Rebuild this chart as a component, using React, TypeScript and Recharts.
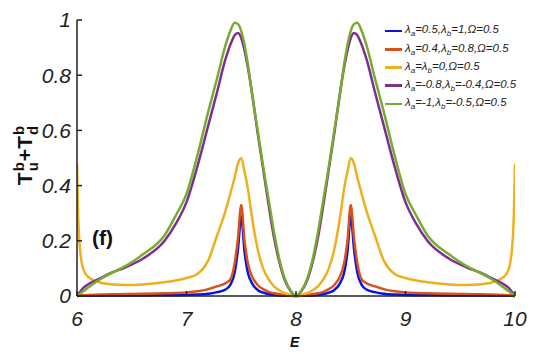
import React from 'react';
import { LineChart, Line, XAxis, YAxis } from 'recharts';

// energy grid (left half 6..8, right half 8..10)
const E_LEFT = [6.0, 6.01, 6.03, 6.06, 6.1, 6.2, 6.3, 6.45, 6.6, 6.8, 6.9, 7.0, 7.1, 7.2, 7.28, 7.35, 7.4, 7.44, 7.47, 7.5, 7.53, 7.56, 7.6, 7.65, 7.7, 7.75, 7.8, 7.85, 7.9, 7.95, 8.0];
const E_RIGHT = [8.05, 8.1, 8.15, 8.2, 8.25, 8.3, 8.35, 8.4, 8.44, 8.47, 8.5, 8.53, 8.56, 8.6, 8.65, 8.72, 8.8, 8.9, 9.0, 9.1, 9.2, 9.4, 9.55, 9.7, 9.8, 9.9, 9.94, 9.97, 9.99, 10.0];

const blueVals = [
  0, 0, 0.001, 0.001, 0.001, 0.001, 0.002, 0.002, 0.002, 0.003, 0.003, 0.004, 0.005, 0.008, 0.014,
  0.022, 0.04, 0.085, 0.17, 0.29, 0.16, 0.085, 0.045, 0.022, 0.012, 0.007, 0.004, 0.002, 0.001, 0.001, 0,
  0.001, 0.001, 0.002, 0.004, 0.007, 0.012, 0.022, 0.045, 0.085, 0.16, 0.29, 0.17, 0.085, 0.04, 0.022,
  0.014, 0.008, 0.005, 0.004, 0.003, 0.003, 0.002, 0.002, 0.002, 0.001, 0.001, 0.001, 0.001, 0, 0,
];
const redVals = [
  0, 0.001, 0.002, 0.003, 0.004, 0.005, 0.006, 0.007, 0.008, 0.01, 0.011, 0.013, 0.017, 0.025, 0.035,
  0.045, 0.06, 0.12, 0.21, 0.33, 0.2, 0.12, 0.07, 0.04, 0.025, 0.015, 0.01, 0.006, 0.003, 0.001, 0,
  0.001, 0.003, 0.006, 0.01, 0.015, 0.025, 0.04, 0.07, 0.12, 0.2, 0.33, 0.21, 0.12, 0.06, 0.045,
  0.035, 0.025, 0.017, 0.013, 0.011, 0.01, 0.008, 0.007, 0.006, 0.005, 0.004, 0.003, 0.002, 0.001, 0,
];
const yellowVals = [
  0.48, 0.3, 0.16, 0.095, 0.07, 0.05, 0.043, 0.04, 0.042, 0.05, 0.056, 0.065, 0.08, 0.13, 0.22,
  0.3, 0.37, 0.43, 0.48, 0.5, 0.45, 0.39, 0.28, 0.17, 0.1, 0.06, 0.035, 0.02, 0.01, 0.004, 0,
  0.004, 0.01, 0.02, 0.035, 0.06, 0.1, 0.17, 0.28, 0.39, 0.45, 0.5, 0.48, 0.43, 0.37, 0.3,
  0.22, 0.13, 0.08, 0.065, 0.056, 0.05, 0.042, 0.04, 0.043, 0.05, 0.07, 0.095, 0.16, 0.3, 0.48,
];
const purpleVals = [
  0, 0.006, 0.016, 0.03, 0.042, 0.062, 0.082, 0.105, 0.135, 0.2, 0.26, 0.34, 0.47, 0.62, 0.74,
  0.85, 0.91, 0.945, 0.953, 0.935, 0.89, 0.83, 0.73, 0.59, 0.46, 0.33, 0.21, 0.12, 0.055, 0.018, 0,
  0.018, 0.055, 0.12, 0.21, 0.33, 0.46, 0.59, 0.73, 0.83, 0.89, 0.935, 0.953, 0.945, 0.91, 0.85,
  0.74, 0.62, 0.47, 0.34, 0.26, 0.2, 0.135, 0.105, 0.082, 0.062, 0.042, 0.03, 0.016, 0.006, 0,
];
const greenVals = [
  0, 0.003, 0.009, 0.018, 0.03, 0.058, 0.08, 0.11, 0.15, 0.22, 0.29, 0.37, 0.51, 0.67, 0.79,
  0.9, 0.96, 0.99, 0.985, 0.96, 0.91, 0.84, 0.73, 0.6, 0.47, 0.35, 0.23, 0.13, 0.06, 0.02, 0,
  0.02, 0.06, 0.13, 0.23, 0.35, 0.47, 0.6, 0.73, 0.84, 0.91, 0.96, 0.985, 0.99, 0.96, 0.9,
  0.79, 0.67, 0.51, 0.37, 0.29, 0.22, 0.15, 0.11, 0.08, 0.058, 0.03, 0.018, 0.009, 0.003, 0,
];

const X_TICKS = [6, 7, 8, 9, 10];
const Y_TICKS = [0, 0.2, 0.4, 0.6, 0.8, 1];

const SERIES = [
  { key: 'blue', color: '#0A14DC', la: '0.5', lb: '1', eq: false },
  { key: 'red', color: '#D95319', la: '0.4', lb: '0.8', eq: false },
  { key: 'yellow', color: '#EDB120', la: '', lb: '0', eq: true },
  { key: 'purple', color: '#7E2F8E', la: '-0.8', lb: '-0.4', eq: false },
  { key: 'green', color: '#77AC30', la: '-1', lb: '-0.5', eq: false },
];

const E_ALL = [...E_LEFT, ...E_RIGHT];
const data = E_ALL.map((e, i) => ({
  E: e,
  blue: blueVals[i],
  red: redVals[i],
  yellow: yellowVals[i],
  purple: purpleVals[i],
  green: greenVals[i],
}));

const font = '"Liberation Sans", Arial, sans-serif';
const tickStyle = { fontSize: 21, fontStyle: 'italic', fill: '#222', fontFamily: font };
const axisStroke = { stroke: '#222', strokeWidth: 1.5 };

const LegendBox = () => (
  <div style={{ fontFamily: font, fontStyle: 'italic', fontSize: 11.5, color: '#222' }}>
    {SERIES.map((s) => (
      <div key={s.key} style={{ display: 'flex', alignItems: 'center', height: 18.2, whiteSpace: 'nowrap' }}>
        <span style={{ display: 'inline-block', width: 17, height: 2.5, background: s.color, marginRight: 3 }} />
        {s.eq ? (
          <span>λ<sub style={{ fontSize: 8 }}>a</sub>=λ<sub style={{ fontSize: 8 }}>b</sub>={s.lb},Ω=0.5</span>
        ) : (
          <span>λ<sub style={{ fontSize: 8 }}>a</sub>={s.la},λ<sub style={{ fontSize: 8 }}>b</sub>={s.lb},Ω=0.5</span>
        )}
      </div>
    ))}
  </div>
);

const Stack = ({ sup, sub }: { sup: string; sub: string }) => (
  <span style={{ display: 'inline-flex', flexDirection: 'column', fontSize: 15, lineHeight: '14px', verticalAlign: 'middle', margin: '0 1px' }}>
    <span>{sup}</span>
    <span>{sub}</span>
  </span>
);

export default function App() {
  return (
    <div style={{ position: 'absolute', left: 0, top: 0, width: 557, height: 354, background: '#fff' }}>
      <LineChart width={557} height={354} data={data} margin={{ top: 20, right: 42, bottom: 28, left: 17 }}>
        <XAxis
          dataKey="E"
          type="number"
          domain={[6, 10]}
          ticks={X_TICKS}
          allowDataOverflow
          height={30}
          tickSize={-5}
          tickMargin={20}
          tick={tickStyle}
          axisLine={axisStroke}
          tickLine={axisStroke}
        />
        <XAxis
          xAxisId="top"
          orientation="top"
          type="number"
          domain={[6, 10]}
          ticks={X_TICKS}
          height={0}
          tickSize={-5}
          tickFormatter={() => ''}
          axisLine={axisStroke}
          tickLine={axisStroke}
        />
        <YAxis
          type="number"
          domain={[0, 1]}
          ticks={Y_TICKS}
          width={60}
          tickSize={-5}
          tickMargin={11}
          tick={tickStyle}
          axisLine={axisStroke}
          tickLine={axisStroke}
        />
        <YAxis
          yAxisId="right"
          orientation="right"
          type="number"
          domain={[0, 1]}
          ticks={Y_TICKS}
          width={0}
          tickSize={-5}
          tickFormatter={() => ''}
          axisLine={axisStroke}
          tickLine={axisStroke}
        />
        {SERIES.map((s) => (
          <Line
            key={s.key}
            type="monotone"
            dataKey={s.key}
            stroke={s.color}
            strokeWidth={2.5}
            dot={false}
            isAnimationActive={false}
          />
        ))}
      </LineChart>
      <div style={{ position: 'absolute', left: 385, top: 22 }}>
        <LegendBox />
      </div>
      <div
        style={{
          position: 'absolute', left: 26, top: 155, transform: 'translate(-50%, -50%) rotate(-90deg)',
          fontFamily: font, fontWeight: 'bold', fontSize: 21, color: '#111', whiteSpace: 'nowrap',
        }}
      >
        T<Stack sup="b" sub="u" />+T<Stack sup="b" sub="d" />
      </div>
      <div style={{ position: 'absolute', left: 92, top: 226, fontFamily: font, fontWeight: 'bold', fontSize: 21, color: '#111' }}>
        (f)
      </div>
      <div style={{ position: 'absolute', left: 290, top: 334, fontFamily: font, fontWeight: 'bold', fontStyle: 'italic', fontSize: 14, color: '#111' }}>
        E
      </div>
    </div>
  );
}
